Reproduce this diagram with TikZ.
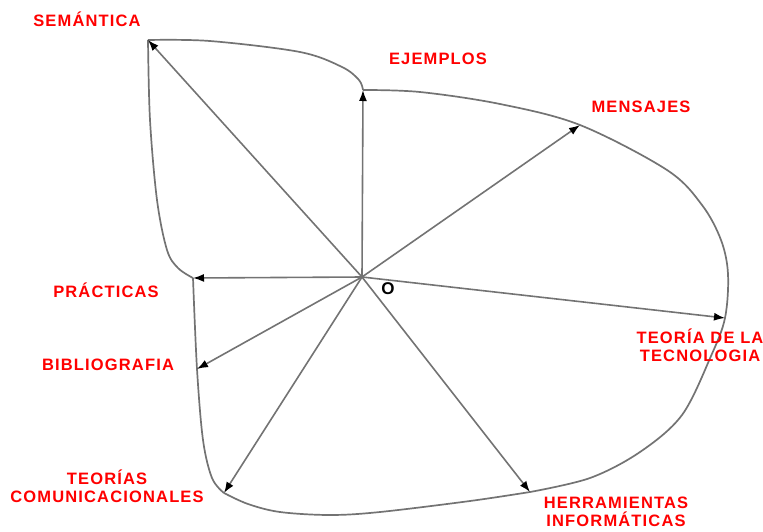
\documentclass[tikz,border=0pt]{standalone}
\usepackage{fontspec}
\newfontfamily\lblfamily[LetterSpace=7]{Liberation Sans}
\newfontfamily\ofamily{Liberation Sans}
\usepackage{xcolor}
\colorlet{colLine}{black!55}
\colorlet{colLbl}{red}
\usepackage{tikz}
\usetikzlibrary{arrows.meta, positioning, calc}
\tikzset{
	lbl/.style={text=colLbl, align=center, inner sep=0pt, font=\lblfamily\bfseries\fontsize{16.5}{18}\selectfont},
	spoke/.style={draw=colLine, line width=1.6pt, -{Latex[color=black, length=11pt, width=8pt]}},
	rim/.style={draw=colLine, line width=1.7pt, line join=round},
}

\begin{document}
\begin{tikzpicture}[x=1pt, y=-1pt]
	\useasboundingbox (0,0) rectangle (763,531);
	% centre and spoke ends
	\coordinate (o) at (362,277);
	\coordinate (sem) at (148,40);
	\coordinate (ej) at (363,90);
	\coordinate (men) at (580,125);
	\coordinate (tec) at (725,318);
	\coordinate (her) at (530,492);
	\coordinate (com) at (224,493);
	\coordinate (bib) at (197,369);
	\coordinate (pra) at (193,278);
	% outline
	\draw[rim] plot[smooth, tension=0.55] coordinates {(148,40) (210,41) (300,52) (342,67) (359,80) (363,90)};
	\draw[rim] plot[smooth, tension=0.55] coordinates {(363,90) (420,92) (500,104) (580,125) (667,170) (702,205) (721,240) (728,274) (725,318) (711,356) (682,415) (640,452) (590,478) (530,492)};
	\draw[rim] plot[smooth, tension=0.55] coordinates {(530,492) (470,501) (380,512) (330,515) (280,512) (248,504) (224,493)};
	\draw[rim] plot[smooth, tension=0.55] coordinates {(224,493) (212,478) (203,440) (197,369) (193,278)};
	\draw[rim] plot[smooth, tension=0.55] coordinates {(193,278) (178,268) (167,250) (157,200) (150,120) (148,40)};
	% spokes
	\foreach \t in {sem, ej, men, tec, her, com, bib, pra}
		\draw[spoke] (o) -- (\t);
	\node[font=\ofamily\bfseries\fontsize{17}{18}\selectfont] (olbl) at (388,289) {O};
	% labels
	\node[lbl] (lsem) at (87,19) {SEMÁNTICA};
	\node[lbl] (lej) at (438,59) {EJEMPLOS};
	\node[lbl] (lmen) at (641,107) {MENSAJES};
	\node[lbl] (ltec) at (700,345) {TEORÍA DE LA\\TECNOLOGIA};
	\node[lbl] (lher) at (616,512) {HERRAMIENTAS\\INFORMÁTICAS};
	\node[lbl] (lcom) at (107,486) {TEORÍAS\\COMUNICACIONALES};
	\node[lbl] (lbib) at (108,365) {BIBLIOGRAFIA};
	\node[lbl] (lpra) at (106,290) {PRÁCTICAS};
\end{tikzpicture}
\end{document}
